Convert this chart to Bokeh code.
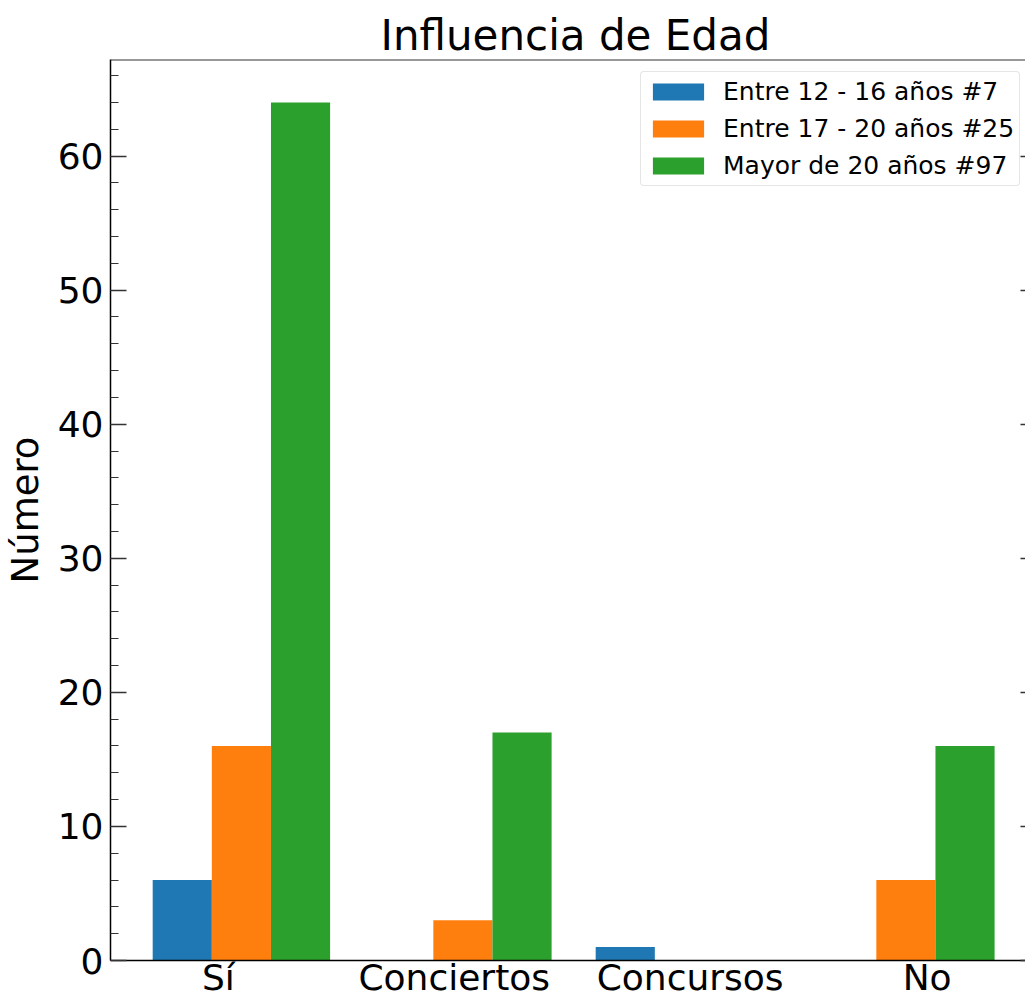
from bokeh.plotting import figure
from bokeh.models import (Range1d, FixedTicker, SingleIntervalTicker, LinearAxis,
                          Legend, LegendItem, Span)
from bokeh.embed import file_html
from bokeh.resources import INLINE

# ---- data ----
categories = ["Sí", "Conciertos", "Concursos", "No"]
series_names = ["Entre 12 - 16 años #7", "Entre 17 - 20 años #25", "Mayor de 20 años #97"]
age_12_16 = [6, 0, 1, 0]
age_17_20 = [16, 3, 0, 6]
age_over_20 = [64, 17, 0, 16]
series_values = [age_12_16, age_17_20, age_over_20]
colors = ["#1f77b4", "#ff7f0e", "#2ca02c"]
y_major_ticks = [0, 10, 20, 30, 40, 50, 60]

# ---- layout constants ----
BAR_W = 0.267
TICK_POS = [-0.104, 0.961, 2.026, 3.096]
Y_MAX = 67.2
FONT = "DejaVu Sans"

p = figure(width=1025, height=1000, output_backend="svg", toolbar_location=None,
           x_range=Range1d(-0.591, 3.540), y_range=Range1d(0, Y_MAX),
           x_axis_location=None, y_axis_location=None,
           min_border_left=110, min_border_right=0, min_border_top=59, min_border_bottom=0)
p.grid.visible = False
p.outline_line_color = None
p.background_fill_color = "white"
p.border_fill_color = "white"

p.title.text = "Influencia de Edad"
p.title.text_font = FONT
p.title.text_font_size = "42px"
p.title.text_font_style = "normal"
p.title.text_color = "black"
p.title.align = "left"
p.title.standoff = 0
p.title.offset = 270

renderers = []
for k, vals in enumerate(series_values):
    xs = [i + (k - 1) * BAR_W for i in range(len(categories))]
    r = p.vbar(x=xs, top=vals, width=BAR_W, fill_color=colors[k], line_color=None)
    renderers.append(r)

# left axis
yl = LinearAxis(ticker=SingleIntervalTicker(interval=10, num_minor_ticks=5))
yl.axis_label = "Número"
yl.axis_label_text_font = FONT
yl.axis_label_text_font_size = "37px"
yl.axis_label_text_font_style = "normal"
yl.axis_label_text_color = "black"
yl.axis_label_standoff = 8
yl.major_label_text_font = FONT
yl.major_label_text_font_size = "36px"
yl.major_label_text_color = "black"
yl.major_label_standoff = 7
yl.major_tick_in = 16
yl.major_tick_out = 0
yl.minor_tick_in = 8
yl.minor_tick_out = 0
yl.axis_line_color = "black"
yl.axis_line_width = 1.5
yl.major_tick_line_color = "#333333"
yl.major_tick_line_width = 1.5
yl.minor_tick_line_color = "#333333"
yl.minor_tick_line_width = 1.2
p.add_layout(yl, "left")

# right axis (ticks only, no labels)
yr = LinearAxis(ticker=SingleIntervalTicker(interval=10, num_minor_ticks=5))
yr.major_label_overrides = {t: "" for t in y_major_ticks}
yr.axis_line_color = None
yr.major_label_standoff = 0
yr.major_tick_in = 5
yr.major_tick_out = 0
yr.minor_tick_in = 0
yr.minor_tick_out = 0
yr.major_tick_line_color = "#333333"
yr.major_tick_line_width = 1.5
p.add_layout(yr, "right")

# top spine
top_spine = Span(location=Y_MAX, dimension="width", line_color="#333333", line_width=2)
p.add_layout(top_spine)

# bottom axis
xb = LinearAxis(ticker=FixedTicker(ticks=TICK_POS))
xb.major_label_overrides = {t: c for t, c in zip(TICK_POS, categories)}
xb.major_label_text_font = FONT
xb.major_label_text_font_size = "36px"
xb.major_label_text_color = "black"
xb.major_label_standoff = -4
xb.major_tick_in = 0
xb.major_tick_out = 0
xb.minor_tick_in = 0
xb.minor_tick_out = 0
xb.axis_line_color = "black"
xb.axis_line_width = 1.5
p.add_layout(xb, "below")

legend = Legend(items=[LegendItem(label=n, renderers=[r]) for n, r in zip(series_names, renderers)],
                location=(530, 774))
legend.label_text_font = FONT
legend.label_text_font_size = "25px"
legend.label_text_color = "black"
legend.glyph_width = 64
legend.glyph_height = 21
legend.label_standoff = 13
legend.label_height = 29
legend.padding = 5
legend.spacing = 8
legend.border_line_color = "#cccccc"
legend.border_line_width = 1
legend.background_fill_alpha = 0.8
try:
    legend.border_radius = 4
except Exception:
    pass
p.add_layout(legend, "center")

open("out.html", "w").write(file_html(p, INLINE))
